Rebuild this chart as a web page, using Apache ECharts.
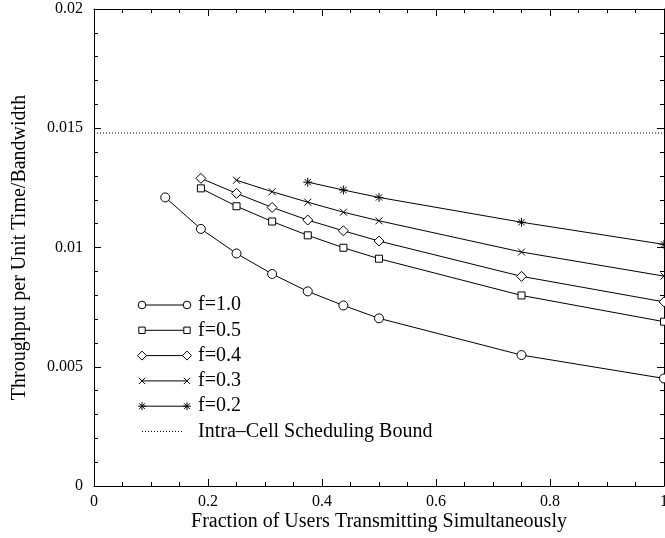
<!DOCTYPE html>
<html>
<head>
<meta charset="utf-8">
<script src="https://cdn.jsdelivr.net/npm/echarts@6/dist/echarts.min.js"></script>
<style>
  html, body { margin: 0; padding: 0; background: #fff; }
  #chart { width: 665px; height: 538px; }
</style>
</head>
<body>
<div id="chart"></div>
<script>
// x positions (fraction of users transmitting)
const xValues = [0.125, 0.1875, 0.25, 0.3125, 0.375, 0.4375, 0.5, 0.75, 1.0];

// throughput per series (shorter series start later on x)
const f10 = [0.0121, 0.01078, 0.00975, 0.00889, 0.00816, 0.00757, 0.00703, 0.00549, 0.00451];
const f05 = [0.01248, 0.01173, 0.01109, 0.01051, 0.00999, 0.00953, 0.00799, 0.00689];
const f04 = [0.0129, 0.01227, 0.01168, 0.01115, 0.0107, 0.01027, 0.00879, 0.00772];
const f03 = [0.01282, 0.01234, 0.0119, 0.01148, 0.01112, 0.00981, 0.0088];
const f02 = [0.01274, 0.01241, 0.0121, 0.01106, 0.01013];

const boundX = [0, 1];
const boundY = [0.0148, 0.0148];

const seriesNames = ['f=1.0', 'f=0.5', 'f=0.4', 'f=0.3', 'f=0.2'];
const boundName = 'Intra\u2013Cell Scheduling Bound';

const FONT = '"Liberation Serif", "DejaVu Serif", serif';

const crossPath = 'path://M0 0 L10 10 M10 0 L0 10';
const starPath = 'path://M5 0 L5 10 M0 5 L10 5 M1.5 1.5 L8.5 8.5 M8.5 1.5 L1.5 8.5';

const symbols = [
    { symbol: 'circle', size: 9 },
    { symbol: 'rect', size: 7 },
    { symbol: 'diamond', size: 10 },
    { symbol: crossPath, size: 7 },
    { symbol: starPath, size: 9 }
];

const pair = (xs, ys) => ys.map((y, i) => [xs[xs.length - ys.length + i], y]);

const seriesData = [f10, f05, f04, f03, f02].map(ys => pair(xValues, ys));

const makeSeries = (name, data, idx) => ({
    name: name,
    type: 'line',
    data: data,
    clip: false,
    symbol: symbols[idx].symbol,
    symbolSize: symbols[idx].size,
    lineStyle: { color: '#000', width: 1 },
    itemStyle: { color: '#fff', borderColor: '#000', borderWidth: 1 }
});

// legend drawn by hand: symbol at each end of a short line
const legendGraphic = () => {
    const x0 = 142, x1 = 187, tx = 198;
    const y0 = 305, dy = 25.3;
    const els = [];
    const stroke = { stroke: '#000', lineWidth: 1, fill: '#fff' };
    const seg = (ax, ay, bx, by) => ({ type: 'line', shape: { x1: ax, y1: ay, x2: bx, y2: by }, style: { stroke: '#000', lineWidth: 1 }, z: 101 });
    const sym = (kind, cx, cy) => {
        if (kind === 0) return [{ type: 'circle', shape: { cx: cx, cy: cy, r: 3.8 }, style: stroke, z: 101 }];
        if (kind === 1) return [{ type: 'rect', shape: { x: cx - 3.2, y: cy - 3.2, width: 6.4, height: 6.4 }, style: stroke, z: 101 }];
        if (kind === 2) return [{ type: 'polygon', shape: { points: [[cx, cy - 4.5], [cx + 4.5, cy], [cx, cy + 4.5], [cx - 4.5, cy]] }, style: stroke, z: 101 }];
        if (kind === 3) return [seg(cx - 3.2, cy - 3.2, cx + 3.2, cy + 3.2), seg(cx + 3.2, cy - 3.2, cx - 3.2, cy + 3.2)];
        const r = 4, d = 2.9;
        return [seg(cx, cy - r, cx, cy + r), seg(cx - r, cy, cx + r, cy),
                seg(cx - d, cy - d, cx + d, cy + d), seg(cx + d, cy - d, cx - d, cy + d)];
    };
    seriesNames.forEach((name, i) => {
        const y = y0 + i * dy;
        els.push({ type: 'line', shape: { x1: x0, y1: y, x2: x1, y2: y }, style: { stroke: '#000', lineWidth: 1 }, z: 100 });
        els.push(...sym(i, x0, y));
        els.push(...sym(i, x1, y));
        els.push({ type: 'text', x: tx, y: y, style: { text: name, font: '20px ' + FONT, fill: '#000', verticalAlign: 'middle' }, z: 100 });
    });
    const yb = y0 + 5 * dy;
    els.push({ type: 'line', shape: { x1: x0, y1: yb, x2: x1 - 4, y2: yb }, style: { stroke: '#000', lineWidth: 1, lineDash: [1, 2] }, z: 100 });
    els.push({ type: 'text', x: tx, y: yb, style: { text: boundName, font: '20px ' + FONT, fill: '#000', verticalAlign: 'middle' }, z: 100 });
    return els;
};

// fresh axis object each time, ticks pointing into the plot
const makeAxis = (pos, max, interval, minorSplit, extra) => Object.assign({
    type: 'value',
    min: 0,
    max: max,
    interval: interval,
    position: pos,
    axisLine: { show: true, onZero: false, lineStyle: { color: '#000', width: 1 } },
    axisTick: { show: true, inside: true, length: 7, lineStyle: { color: '#000', width: 1 } },
    minorTick: { show: true, splitNumber: minorSplit, length: 4, lineStyle: { color: '#000', width: 1 } },
    splitLine: { show: false },
    minorSplitLine: { show: false },
    axisLabel: { show: false }
}, extra || {});

const drawChart = () => {
    const chartDom = document.getElementById('chart');
    const myChart = echarts.init(chartDom);

    const option = {
        animation: false,
        backgroundColor: '#fff',
        grid: { left: 94, right: 1, top: 9, bottom: 52, outerBoundsMode: 'none', containLabel: false },
        xAxis: [
            makeAxis('bottom', 1, 0.2, 4, {
                axisLabel: { show: true, color: '#000', fontFamily: FONT, fontSize: 16, margin: 8,
                    formatter: v => String(+v.toFixed(3)) },
                name: 'Fraction of Users Transmitting Simultaneously',
                nameLocation: 'middle', nameGap: 26, nameMoveOverlap: false,
                nameTextStyle: { color: '#000', fontFamily: FONT, fontSize: 20 }
            }),
            makeAxis('top', 1, 0.2, 4)
        ],
        yAxis: [
            makeAxis('left', 0.02, 0.005, 5, {
                axisLabel: { show: true, color: '#000', fontFamily: FONT, fontSize: 16, margin: 11,
                    formatter: v => String(+v.toFixed(4)) },
                name: 'Throughput per Unit Time/Bandwidth',
                nameLocation: 'middle', nameGap: 64, nameMoveOverlap: false,
                nameTextStyle: { color: '#000', fontFamily: FONT, fontSize: 20 }
            }),
            makeAxis('right', 0.02, 0.005, 5)
        ],
        series: seriesNames.map((name, i) => makeSeries(name, seriesData[i], i)).concat([{
            name: boundName,
            type: 'line',
            data: pair(boundX, boundY),
            symbol: 'none',
            lineStyle: { color: '#000', width: 1, type: [1, 2] }
        }]),
        graphic: legendGraphic()
    };

    myChart.setOption(option);
};

drawChart();
</script>
</body>
</html>
